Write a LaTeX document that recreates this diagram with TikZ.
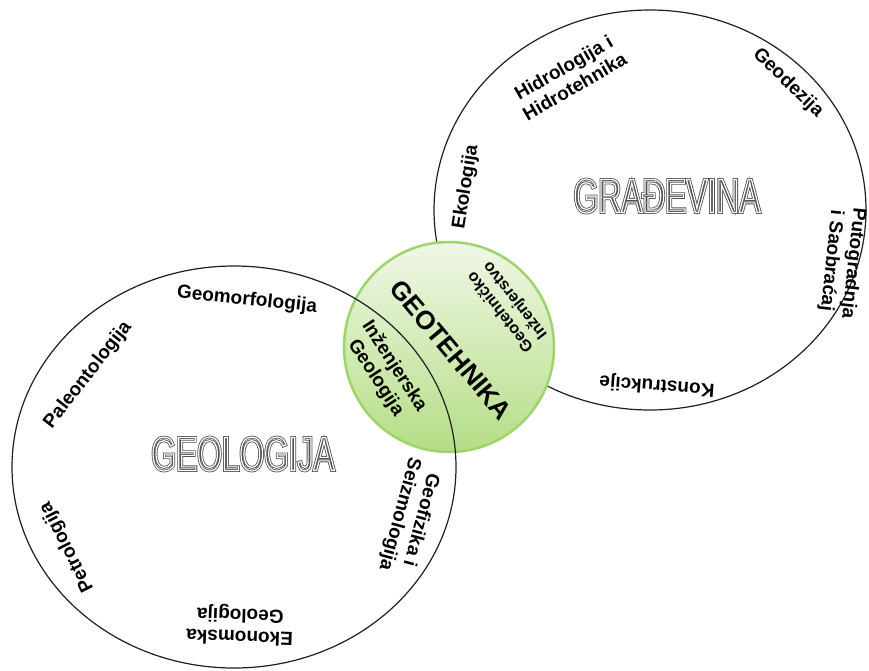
\documentclass[tikz,border=0pt]{standalone}
\usepackage{fontspec}
\setmainfont{Liberation Sans}
\newfontfamily\narrowfont[FakeStretch=0.66]{Liberation Sans}
\usetikzlibrary{shapes.geometric}
\definecolor{ringline}{rgb}{0.12,0.12,0.12}
\definecolor{gborder}{rgb}{0.62,0.83,0.42}
\definecolor{gtop}{rgb}{0.94,0.97,0.90}
\definecolor{gbottom}{rgb}{0.71,0.87,0.53}
\definecolor{hollowdark}{rgb}{0.32,0.32,0.32}
\newcommand\hollowtext[1]{{\color{hollowdark}\special{pdf:literal direct 1 Tr 2.8 w}\rlap{#1}}{\color{white}\special{pdf:literal direct 1 Tr 1.2 w}#1}\special{pdf:literal direct 0 Tr 1 w}}
\tikzset{
  ring/.style={draw=ringline, line width=1.2pt},
  lbl/.style={font=\bfseries\fontsize{19}{22}\selectfont, align=center, inner sep=0pt, text=black},
  smalllbl/.style={font=\bfseries\fontsize{16}{19}\selectfont, align=center, inner sep=0pt, text=black},
  bigtitle/.style={font=\narrowfont\fontsize{48}{50}\selectfont, inner sep=0pt},
}
\begin{document}
\begin{tikzpicture}[x=1pt,y=-1pt]
\useasboundingbox (0,0) rectangle (869,670);
% right ellipse (under circle)
\draw[ring] (650,210) ellipse [x radius=216, y radius=200];
% green circle
\node[circle, minimum size=210pt, draw=gborder, line width=2.5pt, top color=gtop, bottom color=gbottom] (geot) at (449,347) {};
% left ellipse (over circle)
\draw[ring] (234,467) ellipse [x radius=222, y radius=201];
% titles
\node[bigtitle] (gradevina) at (667,196) {\hollowtext{GRAĐEVINA}};
\node[bigtitle] (geologija) at (243,454) {\hollowtext{GEOLOGIJA}};
% left ellipse labels
\node[lbl, rotate=52] (paleo) at (88,375) {Paleontologija};
\node[lbl, rotate=-6] (geomorf) at (247,300) {Geomorfologija};
\node[lbl, rotate=-57] (inzgeo) at (385,372) {Inženjerska\\Geologija};
\node[lbl, rotate=-105] (geofiz) at (410,517) {Geofizika i\\Seizmologija};
\node[lbl, rotate=178] (ekon) at (240,625) {Ekonomska\\Geologija};
\node[lbl, rotate=117] (petro) at (67,547) {Petrologija};
% right ellipse labels
\node[lbl, rotate=81] (ekol) at (466,187) {Ekologija};
\node[lbl, rotate=30] (hidro) at (569,77) {Hidrologija i\\Hidrotehnika};
\node[lbl, rotate=-44] (geodez) at (788,83) {Geodezija};
\node[lbl, rotate=-96] (putog) at (842,262) {Putogradnja\\i Saobraćaj};
\node[lbl, rotate=176] (konstr) at (657,385) {Konstrukcije};
% circle labels
\node[font=\bfseries\fontsize{26}{28}\selectfont, inner sep=0pt, rotate=-50] (geoteh) at (451,350) {GEOTEHNIKA};
\node[smalllbl, rotate=128] (geotinz) at (508,306) {Geotehničko\\Inženjerstvo};
\end{tikzpicture}
\end{document}
